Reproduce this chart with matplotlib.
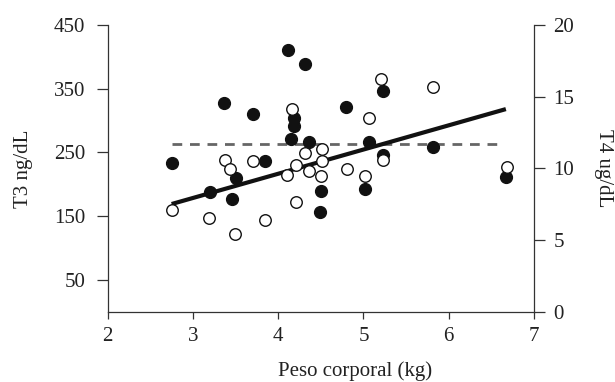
import matplotlib
matplotlib.use("Agg")
import matplotlib.pyplot as plt

plt.rcParams['font.family'] = ['Liberation Serif', 'DejaVu Serif']

# T3 (puntos negros, eje izquierdo)
peso_t3 = [2.75, 3.20, 3.37, 3.46, 3.51, 3.70, 3.85, 4.11, 4.15, 4.19, 4.19,
           4.32, 4.36, 4.50, 4.49, 4.80, 5.02, 5.07, 5.23, 5.23, 5.81, 6.67]
t3 = [234, 188, 328, 177, 210, 310, 237, 410, 271, 304, 292,
      389, 266, 190, 156, 322, 193, 266, 346, 246, 259, 211]

# T4 (puntos blancos, eje derecho)
peso_t4 = [2.75, 3.19, 3.38, 3.44, 3.49, 3.70, 3.85, 4.10, 4.16, 4.21, 4.21, 4.31,
           4.36, 4.51, 4.51, 4.50, 4.81, 5.02, 5.07, 5.20, 5.23, 5.81, 6.68]
t4 = [7.09, 6.52, 10.60, 9.92, 5.44, 10.53, 6.40, 9.57, 14.14, 10.23, 7.65, 11.07,
      9.80, 11.35, 10.51, 9.49, 9.95, 9.45, 13.50, 16.21, 10.56, 15.68, 10.12]

# recta de regresion y linea de referencia (en unidades de T3)
reg_x = [2.75, 6.67]
reg_y = [169, 318]
ref_x = [2.75, 6.60]
ref_y = [263, 263]

xticks = [2, 3, 4, 5, 6, 7]
yticks_l = [50, 150, 250, 350, 450]
yticks_r = [0, 5, 10, 15, 20]

fs = 15

fig = plt.figure(figsize=(6.15, 3.82), dpi=100)
ax = fig.add_axes([0.1751, 0.184, 0.6932, 0.7506])
ax2 = ax.twinx()

ax.plot(ref_x, ref_y, color='#666666', lw=2.0, ls=(0, (3.5, 2.8)), zorder=2)
ax.plot(reg_x, reg_y, color='#111111', lw=3.0, solid_capstyle='butt', zorder=3)
ax.plot(peso_t3, t3, 'o', color='#111111', ms=8.5, zorder=4)
ax2.plot(peso_t4, t4, 'o', mfc='white', mec='#111111', mew=1.0, ms=8.3, zorder=4)

ax.set_xlim(2, 7)
ax.set_ylim(0, 450)
ax2.set_ylim(0, 20)
ax.set_xticks(xticks)
ax.set_yticks(yticks_l)
ax2.set_yticks(yticks_r)

for a in (ax, ax2):
    a.spines['top'].set_visible(False)
    for s in a.spines.values():
        s.set_linewidth(0.9)
        s.set_color('#333333')
ax.spines['right'].set_visible(False)
ax2.spines['left'].set_visible(False)
ax2.spines['bottom'].set_visible(False)

ax.tick_params(axis='y', direction='out', length=8, width=0.9, pad=8,
               labelsize=fs, color='#333333', labelcolor='#222222')
ax.tick_params(axis='x', direction='out', length=5, width=0.9, pad=6,
               labelsize=fs, color='#333333', labelcolor='#222222')
ax2.tick_params(axis='y', direction='out', length=8, width=0.9, pad=6,
                labelsize=fs, color='#333333', labelcolor='#222222')

ax.set_xlabel('Peso corporal (kg)', fontsize=fs, color='#222222')
ax.xaxis.set_label_coords(0.58, -0.172)
ax.set_ylabel('T3 ng/dL', fontsize=fs, color='#222222')
ax.yaxis.set_label_coords(-0.175, 0.5)
ax2.set_ylabel('T4 ug/dL', fontsize=fs, color='#222222', rotation=270, va='bottom')
ax2.yaxis.set_label_coords(1.14, 0.5)

fig.savefig('out.png', dpi=100)
